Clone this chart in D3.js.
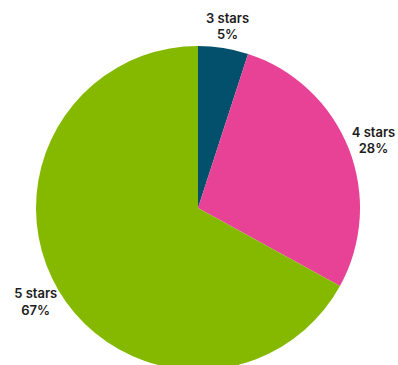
<!DOCTYPE html>
<html>
<head>
<meta charset="utf-8">
<script src="https://cdn.jsdelivr.net/npm/d3@7"></script>
<style>
  html, body { margin: 0; padding: 0; background: #ffffff; }
  svg { display: block; }
  .lbl { font-family: "Inter", "Noto Sans", sans-serif; font-weight: 600; font-size: 13px; fill: #1c1c1c; }
</style>
</head>
<body>
<svg id="chart" width="398" height="365"></svg>
<script>
// Star-rating shares
const categories = ["3 stars", "4 stars", "5 stars"];
const shares = [5, 28, 67];
const colors = ["#02506b", "#e84297", "#84b900"];

const width = 398, height = 365;
const cx = 198, cy = 208, radius = 162, labelGap = 5;

const data = categories.map((c, i) => ({ name: c, value: shares[i], color: colors[i] }));

const pie = d3.pie().sort(null).value(d => d.value);
const arc = d3.arc().innerRadius(0).outerRadius(radius);

const svg = d3.select("#chart");
const g = svg.append("g").attr("transform", `translate(${cx},${cy})`);

const arcs = pie(data);

g.selectAll("path.slice")
  .data(arcs)
  .join("path")
  .attr("class", "slice")
  .attr("d", arc)
  .attr("fill", d => d.data.color);

const labels = g.selectAll("text.lbl")
  .data(arcs)
  .join("text")
  .attr("class", "lbl")
  .attr("text-anchor", "middle");

labels.append("tspan")
  .attr("x", 0)
  .attr("dy", "-0.25em")
  .text(d => d.data.name);

labels.append("tspan")
  .attr("x", 0)
  .attr("dy", "1.25em")
  .text(d => d.data.value + "%");

// Push each two-line label box outward along its slice's mid-angle,
// so the box side facing the pie sits just beyond the rim.
const blockH = 34;
labels.attr("transform", function(d) {
  const a = (d.startAngle + d.endAngle) / 2;
  const w = this.getBBox().width;
  const s = Math.sin(a), c = -Math.cos(a);
  const x = s * (radius + labelGap) + s * w / 2;
  const y = c * (radius + labelGap) + c * blockH / 2;
  return `translate(${x},${y})`;
});
</script>
</body>
</html>
